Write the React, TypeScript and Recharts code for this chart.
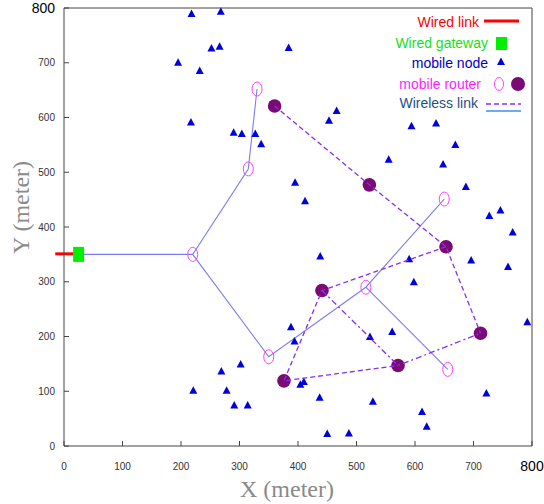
import React from 'react';
import { ScatterChart, Scatter, XAxis, YAxis, ReferenceLine, Legend } from 'recharts';

// positions in meters
const mobileNodes = [
  [218, 789], [268, 793], [252, 726], [266, 729], [195, 700], [232, 685], [384, 727],
  [217, 591], [290, 572], [304, 570], [327, 570], [337, 551], [395, 481], [466, 612],
  [453, 594], [594, 584], [636, 589], [669, 550], [555, 523], [648, 514], [687, 473],
  [412, 447], [727, 420], [746, 430], [767, 390], [438, 346], [590, 341], [696, 339],
  [759, 327], [598, 299], [792, 226], [388, 217], [394, 191], [523, 199], [561, 208],
  [404, 112], [410, 117], [437, 88], [528, 81], [722, 96], [612, 62], [620, 35],
  [450, 22], [487, 23], [221, 101], [269, 136], [302, 149], [278, 101], [291, 74], [314, 74],
];
const hollowRouters = [[220, 350], [315, 506], [330, 652], [350, 163], [516, 290], [650, 451], [656, 140]];
const filledRouters = [[360, 621], [522, 477], [653, 364], [441, 284], [712, 206], [571, 147], [376, 119]];
const gateway = [[25, 350]];
const wiredLink = [[-15, 351], [22, 351]];

const wirelessTree = [
  [[25, 350], [220, 350]],
  [[330, 652], [315, 506], [220, 350], [350, 163], [516, 290], [650, 451]],
  [[516, 290], [656, 140]],
];
const dashedLinks = [
  [[360, 621], [522, 477], [653, 364], [712, 206]],
  [[653, 364], [441, 284], [376, 119], [571, 147]],
];
const dashDotLinks = [
  [[441, 284], [571, 147], [712, 206]],
];

const axisTicks = [0, 100, 200, 300, 400, 500, 600, 700, 800];

const toPts = (arr: number[][]) => arr.map(([x, y]) => ({ x, y }));

const SANS = '"Liberation Sans", Arial, sans-serif';
const SERIF = '"Liberation Serif", "Times New Roman", serif';
const NODE = '#0000dd';
const ROUTER_RING = '#ff40ff';
const ROUTER_FILL = '#7a0a74';
const LINK_BLUE = '#7c7cf0';
const LINK_PURPLE = '#8a2ef0';

const Triangle = ({ cx, cy }: any) => (
  <polygon points={`${cx},${cy - 4.5} ${cx - 4},${cy + 3} ${cx + 4},${cy + 3}`} fill={NODE} />
);
const Ring = ({ cx, cy }: any) => (
  <g>
    <ellipse cx={cx} cy={cy} rx={5} ry={7} fill="none" stroke={ROUTER_RING} strokeWidth={1} />
  </g>
);
const Dot = ({ cx, cy }: any) => <circle cx={cx} cy={cy} r={6.8} fill={ROUTER_FILL} />;
const GatewayBox = ({ cx, cy }: any) => <rect x={cx - 5.5} y={cy - 7.5} width={11} height={15} fill="#00ee00" />;
const NoMark = () => <g />;

const XTick = ({ x, y, payload }: any) => {
  const big = payload.value === 800;
  return (
    <text x={x} y={y} dy={big ? '0.55em' : '0.71em'} textAnchor="middle" fontFamily={SANS}
      fontSize={big ? 14 : 10} fill={big ? '#000' : '#333'}>
      {payload.value}
    </text>
  );
};
const YTick = ({ x, y, payload }: any) => {
  const big = payload.value === 800;
  return (
    <text x={x} y={y} dy="0.355em" textAnchor="end" fontFamily={SANS}
      fontSize={big ? 14 : 10} fill={big ? '#000' : '#333'}>
      {payload.value}
    </text>
  );
};

const LegendBox = () => (
  <svg width={164} height={120} style={{ display: 'block' }}>
    <g fontFamily={SANS} fontSize={14} textAnchor="end" dominantBaseline="central">
      <text x={99} y={21.5} fill="#ff0000">Wired link</text>
      <text x={108} y={42.7} fill="#18e018">Wired gateway</text>
      <text x={108} y={62.7} fill="#0000cc">mobile node</text>
      <text x={101} y={84} fill="#ff22ff">mobile router</text>
      <text x={98} y={102.7} fill="#1f4f86">Wireless link</text>
    </g>
    <line x1={104} x2={139} y1={21} y2={21} stroke="#ff0000" strokeWidth={3} />
    <rect x={116} y={37} width={11} height={13} fill="#00ee00" />
    <polygon points="121,57.5 117,65 125,65" fill={NODE} />
    <ellipse cx={119} cy={84} rx={4.5} ry={6.5} fill="none" stroke={ROUTER_RING} />
    <circle cx={138} cy={84} r={7} fill={ROUTER_FILL} />
    <line x1={106} x2={141} y1={104} y2={104} stroke={LINK_PURPLE} strokeWidth={1.3} strokeDasharray="5 3" />
    <line x1={106} x2={141} y1={111} y2={111} stroke="#3b8fe8" strokeWidth={1.5} />
  </svg>
);

export default function App() {
  return (
    <div style={{ width: 544, height: 504, background: '#fff' }}>
      <style>{'body{margin:0}'}</style>
      <ScatterChart width={544} height={504} margin={{ top: 7, right: 11, bottom: 28, left: 0 }}>
        <XAxis type="number" dataKey="x" domain={[0, 800]} ticks={axisTicks} interval={0}
          height={30} tickSize={-5} tickMargin={22} tick={<XTick />}
          axisLine={{ stroke: '#444' }} tickLine={{ stroke: '#444' }}
          label={(p: any) => (
            <text x={287} y={497} textAnchor="middle" fontFamily={SERIF} fontSize={24} fill="#8a8a8a">X (meter)</text>
          )} />
        <XAxis xAxisId="top" orientation="top" type="number" domain={[0, 800]} ticks={axisTicks}
          allowDataOverflow height={1} tickSize={-5} tick={false}
          axisLine={{ stroke: '#444' }} tickLine={{ stroke: '#444' }} />
        <YAxis type="number" dataKey="y" domain={[0, 800]} ticks={axisTicks} interval={0}
          width={64} tickSize={-5} tickMargin={14} tick={<YTick />}
          axisLine={{ stroke: '#444' }} tickLine={{ stroke: '#444' }}
          label={(p: any) => (
            <text x={21} y={207.5} transform="rotate(-90 21 207.5)" textAnchor="middle" dominantBaseline="central"
              fontFamily={SERIF} fontSize={24} fill="#8a8a8a">Y (meter)</text>
          )} />
        <YAxis yAxisId="right" orientation="right" type="number" domain={[0, 800]} ticks={axisTicks}
          allowDataOverflow width={1} tickSize={-5} tick={false}
          axisLine={{ stroke: '#444' }} tickLine={{ stroke: '#444' }} />

        <ReferenceLine segment={toPts(wiredLink)} stroke="#ff0000" strokeWidth={3} ifOverflow="visible" />

        {wirelessTree.map((path, i) => (
          <Scatter key={`w${i}`} data={toPts(path)} shape={<NoMark />} isAnimationActive={false}
            line={{ stroke: LINK_BLUE, strokeWidth: 1.1 }} />
        ))}

        <Scatter data={toPts(gateway)} shape={<GatewayBox />} isAnimationActive={false} />
        <Scatter data={toPts(mobileNodes)} shape={<Triangle />} isAnimationActive={false} />
        <Scatter data={toPts(hollowRouters)} shape={<Ring />} isAnimationActive={false} />
        <Scatter data={toPts(filledRouters)} shape={<Dot />} isAnimationActive={false} />

        {dashedLinks.map((path, i) => (
          <Scatter key={`d${i}`} data={toPts(path)} shape={<NoMark />} isAnimationActive={false}
            line={{ stroke: LINK_PURPLE, strokeWidth: 1.3, strokeDasharray: '5 3' }} />
        ))}
        {dashDotLinks.map((path, i) => (
          <Scatter key={`dd${i}`} data={toPts(path)} shape={<NoMark />} isAnimationActive={false}
            line={{ stroke: LINK_PURPLE, strokeWidth: 1.3, strokeDasharray: '6 3 2 3' }} />
        ))}

        <Legend layout="horizontal" verticalAlign="middle" align="center"
          wrapperStyle={{ top: 0, left: 380, width: 164, height: 120 }} content={() => <LegendBox />} />
      </ScatterChart>
    </div>
  );
}
